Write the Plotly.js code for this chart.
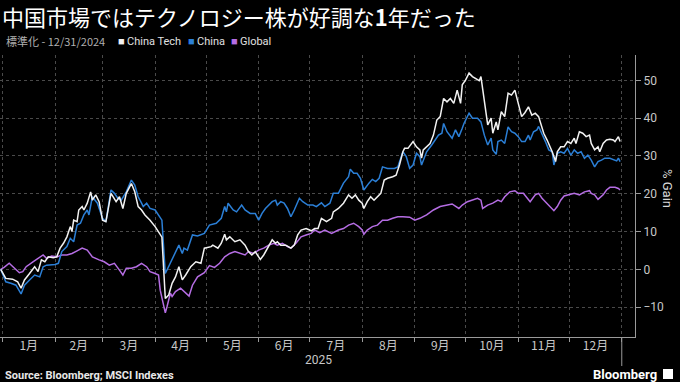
<!DOCTYPE html>
<html>
<head>
<meta charset="utf-8">
<script src="https://cdn.plot.ly/plotly-3.0.1.min.js"></script>
<style>
  html, body { margin: 0; padding: 0; background: #000; }
  #chart { width: 680px; height: 382px; }
</style>
</head>
<body>
<div id="chart"></div>
<script>
// ---- Data (days since 2024-12-31, % gain) ----
const techDays = [0,3,7,10,12,14,17,20,22,24,26,28,31,33,35,37,39,41,42,43,45,46,48,49,51,53,54,56,58,60,62,65,68,70,72,74,77,79,81,83,85,88,91,94,95,97,99,101,103,105,107,109,112,115,118,120,124,125,128,130,132,133,135,138,141,144,146,148,150,152,153,155,158,160,162,163,165,168,171,173,175,177,180,183,185,187,189,192,195,196,199,202,205,207,209,211,213,214,216,218,220,222,224,226,228,231,233,235,237,238,240,243,245,247,248,249,251,253,255,257,259,261,263,265,267,269,271,272,274,276,278,280,282,283,285,287,289,290,292,293,295,297,299,301,303,305,307,309,311,313,315,317,318,320,322,324,325,327,328,330,332,334,336,338,339,341,343,345,347,348,350,352,353,355,357,359,361,362,364,365];
const techVals = [0,-2.4,-2.6,-3.3,-5.0,-2.8,-1.1,0.7,-0.6,2.5,2.0,3.3,3.1,3.3,5.6,6.9,8.6,11.3,10,13,12.6,15.7,16.6,15.7,17.5,20.5,18.3,19.7,17.9,13,12.6,20.1,17.9,19.2,16.1,20.1,22.7,20.5,16.6,15.7,14.4,13,11.3,9.1,8.5,-7.7,-6.8,-3.7,-2,0.7,-2.8,-1.5,0.7,2,1.6,5.6,6,6.4,5.6,6.9,9.3,7.8,8.6,7.3,7.8,6.4,4.7,3.8,4.7,3.3,2.6,3.8,6,7.8,6.9,7.3,6.4,6.4,5.6,6.4,9.1,10.4,10.8,10.2,10.8,10.8,13.5,12.6,13.5,15.2,16.1,17.5,19.7,18.8,19.7,18.3,17.5,16.1,17.9,19.2,18.3,19.2,20.1,23.6,24.1,24.5,24.9,27.6,31.1,32,32,33.8,32.4,31.6,29.4,31.6,32.4,33.3,35.5,39.5,40.4,45.2,44.3,45.2,43.9,47.4,43.9,48.8,50.1,51.9,51,50.5,49.9,51,45.2,38.2,40,36,39,36.9,41.7,40.4,46.6,46.1,47.4,43.9,40.4,41.5,43,40.8,41.3,40.4,39,36,34.2,32.4,31.1,28.5,31.1,32.4,32.4,33.8,33.3,34.7,33.3,36.4,36,35.1,35.5,33.3,31.6,32.4,31.1,33.3,34.2,34.4,34.2,33.8,35.1,33.8];

const chinaDays = [0,1,3,6,9,12,14,17,20,23,25,27,32,34,36,39,41,43,45,47,49,51,52,54,57,60,62,65,67,69,71,74,77,79,81,83,84,86,88,91,94,95,97,99,101,103,105,107,108,110,113,116,120,123,127,130,132,133,134,137,139,142,144,147,150,152,154,156,158,160,162,163,165,167,169,171,173,176,178,181,184,186,189,191,194,196,199,202,205,206,208,210,212,214,217,219,221,223,225,228,232,234,237,239,241,243,245,247,248,251,254,256,258,260,261,263,266,268,270,272,273,276,278,281,283,285,287,289,290,292,293,295,297,299,301,303,305,307,309,311,312,314,316,317,319,321,323,325,326,328,330,332,334,336,338,340,342,344,346,348,350,352,354,356,359,361,363,364,365];
const chinaVals = [0,-1.1,-3.3,-3.7,-4.2,-6.5,-4.2,-2.8,-1.5,-2,0.7,1.1,1.3,1.6,4.7,6,8.2,7.3,11.7,12.2,14.4,15.7,14.4,19.2,17.5,13.5,12.6,21,20.1,18.8,18.3,20.5,23.6,22.3,19.2,17.5,16.6,17.5,16.1,15.7,13.9,13,-1.1,0.7,2.5,4.2,6.4,4.2,5.6,5.1,9.1,8.8,9.5,11.7,12.2,13.5,16.6,15.2,17.5,15.7,15.2,17,15.7,14.8,14.8,13,14.8,16.1,17,17.9,18.3,17,17.9,17.5,16.1,13.9,15.7,18.8,17.9,17,17,16.6,17.6,16.6,17.5,20.1,20.1,22.8,24.5,26.5,25.4,25.4,24.1,21,22.8,23.8,23.2,24.1,27.1,26.7,26.7,27.1,31.1,29.8,26.7,27.6,30.7,29.8,27.6,31.1,32.9,34.2,35.5,36,38.6,36.4,34.7,36.9,35.1,37.3,38.6,41.3,40,40,39,35.5,32.9,34.7,31.6,30.4,33.8,34.2,33.3,37.7,36.4,36,35.1,33.8,33.8,35.5,34.2,36.4,36.9,37.8,36,33.8,31.6,31.1,27.6,30.7,31.1,30.7,32,30.2,31.6,30.7,31.1,29.4,30.2,28.9,27.1,28.5,28.9,29.4,29.4,29.1,28.7,29.4,28.5];

const globalDays = [0,2,5,8,11,13,15,19,23,25,27,30,33,36,39,42,45,48,51,54,58,61,64,67,70,72,74,77,80,83,86,88,91,93,94,96,97,98,100,101,103,106,108,111,113,116,120,123,126,129,132,135,138,141,144,146,149,152,155,158,161,163,166,169,171,174,177,180,183,185,188,191,195,199,202,205,208,211,213,214,216,219,222,225,228,231,234,237,241,244,247,251,255,259,263,266,270,272,275,278,281,283,284,287,290,293,295,297,300,303,305,308,310,312,315,317,319,321,323,325,326,328,330,332,335,338,341,344,347,348,350,352,355,357,359,362,364,365];
const globalVals = [0,0.5,1.6,0.3,-0.9,-0.6,0.7,2,3.2,3.8,2.9,3.5,3.3,3.8,3.8,4.2,4.9,5.6,5.1,3.3,2.5,2,1.1,1.6,-0.2,-1.5,0.3,0.3,0.7,1.6,0.7,-0.6,-1.1,-1.5,-5.5,-9.9,-11.5,-9.9,-6.3,-7.2,-5.9,-5,-5.9,-7.1,-4.2,-2,-0.9,1,0.5,1.6,3.3,4.2,4.7,4.2,3.8,4.7,4.2,5.1,5.6,6.4,6.9,6.4,6.9,6,5.6,6.9,8.6,9.1,9.5,10.4,9.7,10.4,9.5,10.4,10.8,11.7,12.2,11.3,10.4,9.3,10.4,11.3,11.7,13,13,13.5,13.9,13.9,13.8,13,13.5,14.4,15.7,16.6,17,17.3,16.1,17,17.9,18.3,18.8,18.3,16.1,17,17.5,18.3,17.9,19.2,20.5,20.8,20.1,20.1,19,17.9,19.7,20.1,18.8,17.9,17,16.1,15.5,16.6,18.3,19.4,19.7,20.1,19.7,20.5,20.8,20.1,19.7,18.5,19.7,21,21.7,21.7,21.4,21];

const seriesNames = ['China Tech', 'China', 'Global'];
const seriesColors = ['#f2f2f2', '#2b7fd6', '#b56de3'];
const monthTickFormat = '%-m月';
const yearLabel = '2025';

// ---- helpers ----
const base = Date.UTC(2024, 11, 31);
function toDates(days) {
  return days.map(d => new Date(base + d * 86400000).toISOString().slice(0, 10));
}

const L = 0, R = 45, T = 55, B = 45, W = 680, H = 382;
const pw = W - L - R, ph = H - T - B;
const px = x => (x - L) / pw;
const py = y => (H - B - y) / ph;

const allDays = [techDays, chinaDays, globalDays];
const allVals = [techVals, chinaVals, globalVals];
// draw Global first, then China, then China Tech on top
const order = [2, 1, 0];
const traces = order.map(i => ({
  type: 'scatter',
  mode: 'lines',
  x: toDates(allDays[i]),
  y: allVals[i],
  name: seriesNames[i],
  line: { color: seriesColors[i], width: 1.5 },
  hoverinfo: 'skip'
}));

const cjk = '"Noto Sans CJK JP", "Noto Sans", sans-serif';
const latin = 'Roboto, "Noto Sans", sans-serif';

const annotations = [
  { text: '標準化 - 12/31/2024', x: px(4), y: py(41), xanchor: 'left', yanchor: 'middle',
    font: { family: cjk, size: 11, color: '#b0b0b0' } },
  { text: '■', x: px(116), y: py(41), xanchor: 'left', yanchor: 'middle', font: { family: latin, size: 11, color: seriesColors[0] } },
  { text: seriesNames[0], x: px(125), y: py(41), xanchor: 'left', yanchor: 'middle', font: { family: latin, size: 11, color: '#e0e0e0' } },
  { text: '■', x: px(186), y: py(41), xanchor: 'left', yanchor: 'middle', font: { family: latin, size: 11, color: seriesColors[1] } },
  { text: seriesNames[1], x: px(195), y: py(41), xanchor: 'left', yanchor: 'middle', font: { family: latin, size: 11, color: '#e0e0e0' } },
  { text: '■', x: px(229), y: py(41), xanchor: 'left', yanchor: 'middle', font: { family: latin, size: 11, color: seriesColors[2] } },
  { text: seriesNames[2], x: px(238), y: py(41), xanchor: 'left', yanchor: 'middle', font: { family: latin, size: 11, color: '#e0e0e0' } },
  { text: '% Gain', x: px(668), y: py(188), xanchor: 'center', yanchor: 'middle', textangle: 90,
    font: { family: latin, size: 13, color: '#d8d8d8' } },
  { text: yearLabel, x: px(318), y: py(360), xanchor: 'center', yanchor: 'middle',
    font: { family: latin, size: 12, color: '#c8c8c8' } },
  { text: '<b>Source: Bloomberg; MSCI Indexes</b>', x: px(3), y: py(375), xanchor: 'left', yanchor: 'middle',
    font: { family: latin, size: 11, color: '#e8e8e8' } },
  { text: '<b>Bloomberg</b>', x: px(659), y: py(374), xanchor: 'right', yanchor: 'middle',
    font: { family: latin, size: 13, color: '#ffffff' } }
].map(a => Object.assign({ xref: 'paper', yref: 'paper', showarrow: false }, a));

const shapes = [
  { type: 'line', xref: 'x', yref: 'paper', x0: '2026-01-01', x1: '2026-01-01', y0: 0, y1: py(366),
    line: { color: '#9a9a9a', width: 1 } },
  { type: 'rect', xref: 'paper', yref: 'paper', x0: px(663), x1: px(673), y0: py(379), y1: py(369),
    fillcolor: '#ffffff', line: { width: 0 } }
];

const layout = {
  width: W, height: H,
  margin: { l: L, r: R, t: T, b: B, pad: 0 },
  paper_bgcolor: '#000', plot_bgcolor: '#000',
  showlegend: false,
  title: {
    text: '中国市場ではテクノロジー株が好調な<b>1</b>年だった',
    x: px(2), xanchor: 'left', xref: 'paper',
    y: 1 - 18 / H, yanchor: 'middle', yref: 'container',
    font: { family: cjk, size: 22, color: '#ffffff' }
  },
  xaxis: {
    type: 'date',
    range: ['2024-12-30 14:00', '2026-01-08 19:00'],
    dtick: 'M1', tick0: '2025-01-01',
    ticklabelmode: 'period', tickformat: monthTickFormat,
    ticks: 'outside', ticklen: 4, tickcolor: '#9a9a9a',
    ticklabelstandoff: -6,
    showline: true, linecolor: '#9a9a9a', linewidth: 1,
    showgrid: true, gridcolor: '#4a4a4a', griddash: 'dot', gridwidth: 1,
    tickfont: { family: cjk, size: 12, color: '#c8c8c8' },
    zeroline: false, fixedrange: true
  },
  yaxis: {
    side: 'right',
    range: [-17.9, 56.7],
    dtick: 10, tick0: 0,
    ticks: 'outside', ticklen: 5, tickcolor: '#9a9a9a',
    showline: true, linecolor: '#9a9a9a', linewidth: 1,
    showgrid: true, gridcolor: '#4a4a4a', griddash: 'dot', gridwidth: 1,
    tickfont: { family: latin, size: 12, color: '#c8c8c8' },
    zeroline: false, fixedrange: true
  },
  annotations: annotations,
  shapes: shapes
};

Plotly.newPlot('chart', traces, layout, { displayModeBar: false, staticPlot: true });
</script>
</body>
</html>
